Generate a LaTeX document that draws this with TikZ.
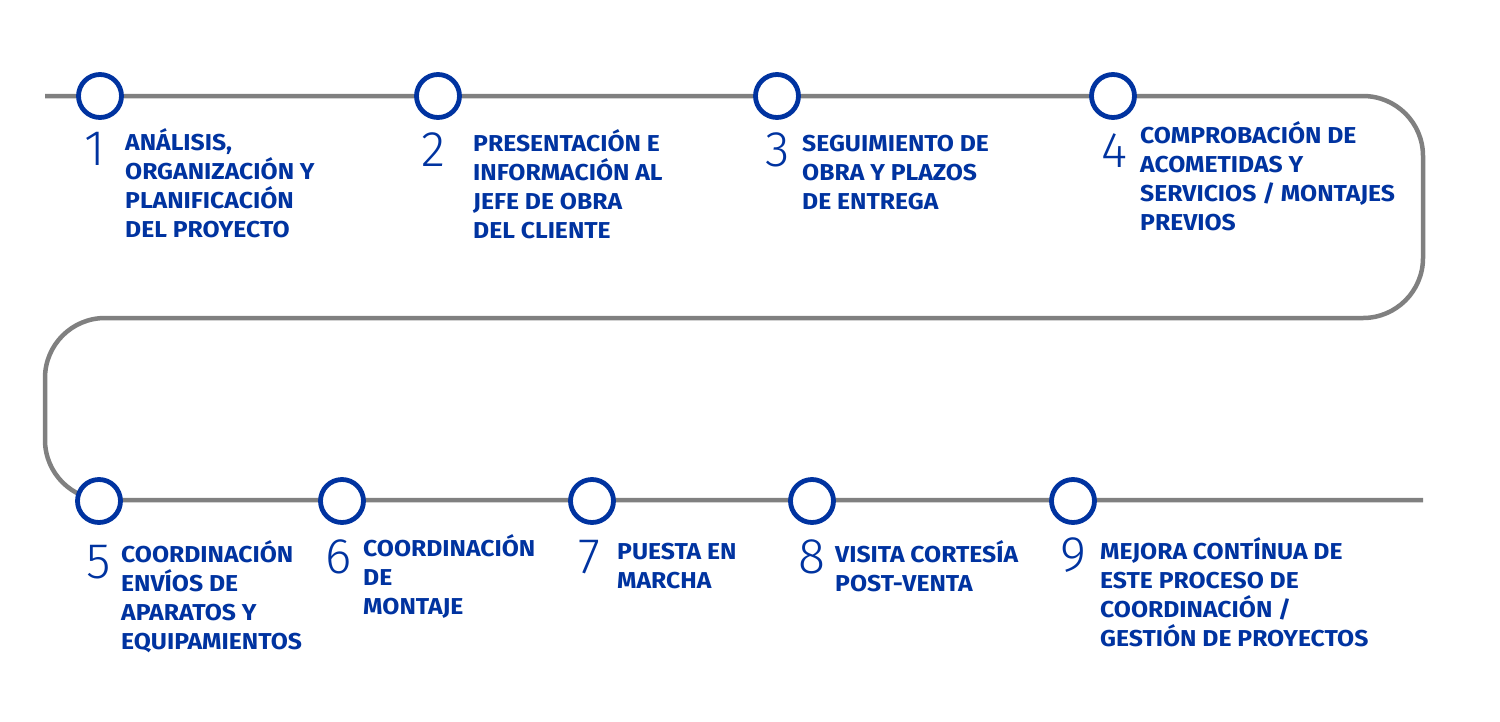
\documentclass[tikz,border=0pt]{standalone}
\usepackage{fontspec}
\setmainfont{Fira Sans}[BoldFeatures={FakeStretch=1.075}]
\newfontfamily\numfont{Fira Sans Light}
\definecolor{stepblue}{HTML}{0033A0}
\definecolor{pathgray}{HTML}{808080}
\newcommand{\steplines}[1]{\vtop{\baselineskip=29pt\lineskip=0pt\lineskiplimit=-30pt\halign{##\hfil\cr#1\crcr}}}
\tikzset{
  track/.style={draw=pathgray, line width=4.5pt, rounded corners=60pt},
  dot/.style={circle, draw=stepblue, fill=white, line width=4.8pt, minimum size=43pt, inner sep=0pt},
  num/.style={anchor=base west, inner sep=0pt, text=stepblue, font=\numfont\fontsize{50}{50}\selectfont},
  label/.style={anchor=base west, inner sep=0pt, text=stepblue, font=\bfseries\fontsize{23}{29}\selectfont},
}
\begin{document}
\begin{tikzpicture}[x=1pt,y=-1pt]
\useasboundingbox (0,0) rectangle (1500,721);
% track corners
\coordinate (start) at (45,96);
\coordinate (tr) at (1423,96);
\coordinate (mr) at (1423,318);
\coordinate (ml) at (45,318);
\coordinate (bl) at (45,500);
\coordinate (finish) at (1423,500);
\draw[track] (start) -- (tr) -- (mr) -- (ml) -- (bl) -- (finish);
% circles
\node[dot] (c1) at (100,96) {};
\node[dot] (c2) at (438,96) {};
\node[dot] (c3) at (777,96) {};
\node[dot] (c4) at (1113,96) {};
\node[dot] (c5) at (99,501) {};
\node[dot] (c6) at (342,501) {};
\node[dot] (c7) at (592,501) {};
\node[dot] (c8) at (812,501) {};
\node[dot] (c9) at (1073,501) {};
% numbers
\node[num] (n1) at (84,165) {1};
\node[num] (n2) at (421,166) {2};
\node[num] (n3) at (765,166) {3};
\node[num] (n4) at (1101,167) {4};
\node[num] (n5) at (86,578) {5};
\node[num] (n6) at (325,573) {6};
\node[num] (n7) at (578,573) {7};
\node[num] (n8) at (798,573) {8};
\node[num] (n9) at (1060,571) {9};
% labels
\node[label] (t1) at (125,150) {\steplines{ANÁLISIS,\cr ORGANIZACIÓN Y\cr PLANIFICACIÓN\cr DEL PROYECTO}};
\node[label] (t2) at (473,151) {\steplines{PRESENTACIÓN E\cr INFORMACIÓN AL\cr JEFE DE OBRA\cr DEL CLIENTE}};
\node[label] (t3) at (802,151) {\steplines{SEGUIMIENTO DE\cr OBRA Y PLAZOS\cr DE ENTREGA}};
\node[label] (t4) at (1140,143) {\steplines{COMPROBACIÓN DE\cr ACOMETIDAS Y\cr SERVICIOS / MONTAJES\cr PREVIOS}};
\node[label] (t5) at (121,562) {\steplines{COORDINACIÓN\cr ENVÍOS DE\cr APARATOS Y\cr EQUIPAMIENTOS}};
\node[label] (t6) at (363,556) {\steplines{COORDINACIÓN\cr DE\cr MONTAJE}};
\node[label] (t7) at (617,559) {\steplines{PUESTA EN\cr MARCHA}};
\node[label] (t8) at (835,562) {\steplines{VISITA CORTESÍA\cr POST-VENTA}};
\node[label] (t9) at (1100,559) {\steplines{MEJORA CONTÍNUA DE\cr ESTE PROCESO DE\cr COORDINACIÓN /\cr GESTIÓN DE PROYECTOS}};
\end{tikzpicture}
\end{document}
